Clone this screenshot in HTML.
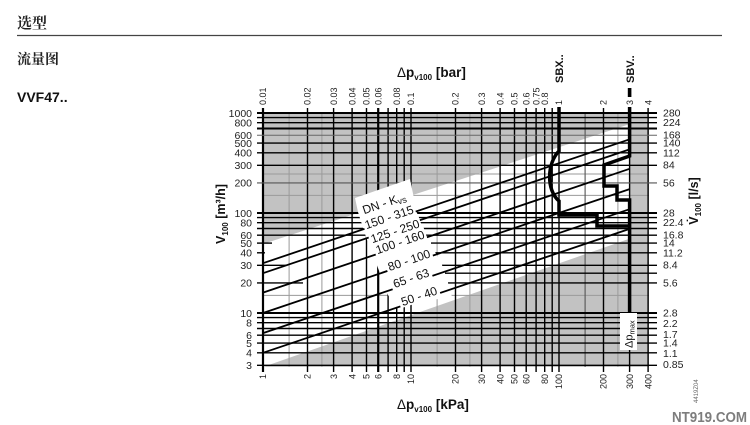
<!DOCTYPE html>
<html><head><meta charset="utf-8">
<style>
html,body{margin:0;padding:0;background:#fff;width:750px;height:425px;overflow:hidden}
svg{display:block}
text{font-family:"Liberation Sans","Noto Sans CJK SC",Arial,sans-serif}
.cjk{font-family:"Noto Serif CJK SC","Noto Sans CJK SC",serif}
</style></head>
<body>
<svg width="750" height="425" viewBox="0 0 750 425" xmlns="http://www.w3.org/2000/svg">
<rect width="750" height="425" fill="#fff"/>

<!-- header -->
<text class="cjk" x="17" y="28" font-size="15" font-weight="bold" fill="#222">选型</text>
<line x1="17" y1="35.5" x2="722" y2="35.5" stroke="#444" stroke-width="1.2"/>
<text class="cjk" x="17" y="64" font-size="14" font-weight="bold" fill="#222">流量图</text>
<text x="17" y="102" font-size="14" font-weight="bold" fill="#111">VVF47..</text>

<!-- plot background -->
<rect x="263" y="113" width="386" height="254" fill="#c2c2c2"/>
<polygon points="263,244 630,124 630,238.5 263,367" fill="#fff"/>

<!-- minor light grid -->
<g stroke="#9a9a9a" stroke-width="1">
<line x1="289.1" y1="113" x2="289.1" y2="367"/>
<line x1="321.9" y1="113" x2="321.9" y2="367"/>
<line x1="437.1" y1="113" x2="437.1" y2="367"/>
<line x1="469.9" y1="113" x2="469.9" y2="367"/>
<line x1="617.9" y1="113" x2="617.9" y2="367"/>
<line x1="263" y1="195.4" x2="649" y2="195.4"/>
<line x1="263" y1="295.4" x2="649" y2="295.4"/>
<line x1="263" y1="174" x2="649" y2="174"/>
</g>
<line x1="585.1" y1="113" x2="585.1" y2="367" stroke="#555" stroke-width="1.1"/>

<!-- major verticals -->
<g stroke="#000" stroke-width="1.4">
<line x1="263" y1="108" x2="263" y2="372" stroke-width="2.2"/>
<line x1="307.5" y1="108" x2="307.5" y2="372"/>
<line x1="333.6" y1="108" x2="333.6" y2="372"/>
<line x1="352.1" y1="108" x2="352.1" y2="372"/>
<line x1="366.5" y1="108" x2="366.5" y2="372"/>
<line x1="378.2" y1="108" x2="378.2" y2="372" stroke-width="2.2"/>
<line x1="388.1" y1="108" x2="388.1" y2="372"/>
<line x1="396.7" y1="108" x2="396.7" y2="372"/>
<line x1="404.2" y1="108" x2="404.2" y2="372"/>
<line x1="411" y1="108" x2="411" y2="372"/>
<line x1="455.5" y1="108" x2="455.5" y2="372"/>
<line x1="481.6" y1="108" x2="481.6" y2="372"/>
<line x1="500.1" y1="108" x2="500.1" y2="372"/>
<line x1="514.5" y1="108" x2="514.5" y2="372"/>
<line x1="526.2" y1="108" x2="526.2" y2="372"/>
<line x1="536.1" y1="108" x2="536.1" y2="372"/>
<line x1="544.7" y1="108" x2="544.7" y2="372"/>
<line x1="552.2" y1="108" x2="552.2" y2="372"/>
<line x1="559" y1="108" x2="559" y2="372"/>
<line x1="603.5" y1="108" x2="603.5" y2="372"/>
<line x1="629.6" y1="108" x2="629.6" y2="372"/>
<line x1="648.1" y1="108" x2="648.1" y2="372"/>
</g>

<!-- major horizontals -->
<g stroke="#000" stroke-width="1.4">
<line x1="257" y1="113" x2="657" y2="113" stroke-width="2"/>
<line x1="257" y1="117.6" x2="657" y2="117.6"/>
<line x1="257" y1="122.7" x2="657" y2="122.7"/>
<line x1="257" y1="128.5" x2="657" y2="128.5" stroke-width="2"/>
<line x1="257" y1="135.2" x2="657" y2="135.2" stroke="#666" stroke-width="1"/>
<line x1="257" y1="143.1" x2="657" y2="143.1"/>
<line x1="257" y1="152.8" x2="657" y2="152.8"/>
<line x1="257" y1="165.3" x2="657" y2="165.3"/>
<line x1="257" y1="182.9" x2="657" y2="182.9" stroke="#555" stroke-width="1.1"/>
<line x1="257" y1="213" x2="657" y2="213" stroke-width="2"/>
<line x1="257" y1="217.6" x2="657" y2="217.6"/>
<line x1="257" y1="222.7" x2="657" y2="222.7"/>
<line x1="257" y1="228.5" x2="657" y2="228.5"/>
<line x1="257" y1="235.2" x2="657" y2="235.2"/>
<line x1="257" y1="243.1" x2="272" y2="243.1"/>
<line x1="431" y1="243.1" x2="657" y2="243.1"/>
<line x1="257" y1="252.8" x2="265" y2="252.8"/>
<line x1="433" y1="252.8" x2="657" y2="252.8"/>
<line x1="257" y1="265.3" x2="287" y2="265.3"/>
<line x1="442" y1="265.3" x2="657" y2="265.3"/>
<line x1="445" y1="273.2" x2="657" y2="273.2"/>
<line x1="257" y1="282.9" x2="303" y2="282.9"/>
<line x1="448" y1="282.9" x2="657" y2="282.9"/>
<line x1="257" y1="313" x2="657" y2="313" stroke-width="2"/>
<line x1="257" y1="317.6" x2="657" y2="317.6"/>
<line x1="257" y1="322.7" x2="657" y2="322.7"/>
<line x1="257" y1="328.5" x2="657" y2="328.5"/>
<line x1="257" y1="335.2" x2="657" y2="335.2"/>
<line x1="257" y1="343.1" x2="657" y2="343.1"/>
<line x1="257" y1="352.8" x2="657" y2="352.8"/>
<line x1="257" y1="365.3" x2="657" y2="365.3"/>
</g>

<!-- label mask -->
<polygon points="355,198 410,179 417,213 425,235 433,248 442,265 448,283 452,297 411,303 404,305 397,308 388,295 378,268 366,237 358,212" fill="#fff"/>

<!-- Kvs lines -->
<g stroke="#000" stroke-width="1.8">
<line x1="263" y1="263.2" x2="629.6" y2="139.3"/>
<line x1="263" y1="273.2" x2="629.6" y2="149.4"/>
<line x1="263" y1="292.6" x2="629.6" y2="168.8"/>
<line x1="263" y1="313" x2="629.6" y2="189.1"/>
<line x1="263" y1="333.1" x2="629.6" y2="209.2"/>
<line x1="263" y1="352.8" x2="629.6" y2="228.9"/>
</g>

<!-- inline labels -->
<g font-size="12" fill="#111">
<g transform="translate(384,203) rotate(-18.67)"><rect x="-26" y="-7" width="52" height="14" fill="#fff"/><text x="0" y="4.3" text-anchor="middle">DN - K<tspan font-size="9" dy="2">vs</tspan></text></g>
<g transform="translate(389,217) rotate(-18.67)"><rect x="-27" y="-7" width="54" height="13" fill="#fff"/><text x="0" y="4.3" text-anchor="middle">150 - 315</text></g>
<g transform="translate(395,231) rotate(-18.67)"><rect x="-27" y="-7" width="54" height="13" fill="#fff"/><text x="0" y="4.3" text-anchor="middle">125 - 250</text></g>
<g transform="translate(400,242) rotate(-18.67)"><rect x="-27" y="-7" width="54" height="13" fill="#fff"/><text x="0" y="4.3" text-anchor="middle">100 - 160</text></g>
<g transform="translate(409,260) rotate(-18.67)"><rect x="-24" y="-7" width="48" height="13" fill="#fff"/><text x="0" y="4.3" text-anchor="middle">80 - 100</text></g>
<g transform="translate(411,278) rotate(-18.67)"><rect x="-21" y="-7" width="42" height="13" fill="#fff"/><text x="0" y="4.3" text-anchor="middle">65 - 63</text></g>
<g transform="translate(419,296) rotate(-18.67)"><rect x="-21" y="-7" width="42" height="13" fill="#fff"/><text x="0" y="4.3" text-anchor="middle">50 - 40</text></g>
</g>

<!-- SBX / SBV -->
<g stroke="#000" stroke-width="3.5" fill="none" stroke-linejoin="miter">
<path d="M559,107 V151 C547,163 546,190 559,201 V215 H597 V226 H629.6"/>
<path d="M629.6,107 V156 L604,165 V186 H617 V200 H629.6 V313"/>
</g>
<rect x="627.8" y="88" width="3.6" height="9" fill="#000"/>

<!-- dp max box -->
<rect x="620" y="313" width="17" height="37" fill="#fff"/>
<text transform="translate(632.5,348) rotate(-90)" font-size="11" fill="#111">Δp<tspan font-size="7.5" dy="2">max</tspan></text>

<!-- left labels -->
<g font-size="10.5" fill="#222" text-anchor="end">
<text x="252" y="116.8">1000</text>
<text x="252" y="126.5">800</text>
<text x="252" y="139">600</text>
<text x="252" y="146.9">500</text>
<text x="252" y="156.6">400</text>
<text x="252" y="169.1">300</text>
<text x="252" y="186.7">200</text>
<text x="252" y="216.8">100</text>
<text x="252" y="226.5">80</text>
<text x="252" y="239">60</text>
<text x="252" y="246.9">50</text>
<text x="252" y="256.6">40</text>
<text x="252" y="269.1">30</text>
<text x="252" y="286.7">20</text>
<text x="252" y="316.8">10</text>
<text x="252" y="326.5">8</text>
<text x="252" y="339">6</text>
<text x="252" y="346.9">5</text>
<text x="252" y="356.6">4</text>
<text x="252" y="369.1">3</text>
</g>

<!-- right labels -->
<g font-size="10.5" fill="#222">
<text x="663" y="116.5">280</text>
<text x="663" y="126.1">224</text>
<text x="663" y="138.6">168</text>
<text x="663" y="146.5">140</text>
<text x="663" y="156.3">112</text>
<text x="663" y="168.7">84</text>
<text x="663" y="186.3">56</text>
<text x="663" y="216.5">28</text>
<text x="663" y="226.1">22.4</text>
<text x="663" y="238.6">16.8</text>
<text x="663" y="246.6">14</text>
<text x="663" y="256.3">11.2</text>
<text x="663" y="268.7">8.4</text>
<text x="663" y="286.3">5.6</text>
<text x="663" y="316.5">2.8</text>
<text x="663" y="326.9">2.2</text>
<text x="663" y="338.1">1.7</text>
<text x="663" y="346.6">1.4</text>
<text x="663" y="357">1.1</text>
<text x="663" y="368.1">0.85</text>
</g>

<!-- top tick labels -->
<g font-size="9" fill="#222">
<text transform="translate(266.2,105) rotate(-90)">0.01</text>
<text transform="translate(310.7,105) rotate(-90)">0.02</text>
<text transform="translate(336.8,105) rotate(-90)">0.03</text>
<text transform="translate(355.3,105) rotate(-90)">0.04</text>
<text transform="translate(369.7,105) rotate(-90)">0.05</text>
<text transform="translate(381.4,105) rotate(-90)">0.06</text>
<text transform="translate(399.9,105) rotate(-90)">0.08</text>
<text transform="translate(414.2,105) rotate(-90)">0.1</text>
<text transform="translate(458.7,105) rotate(-90)">0.2</text>
<text transform="translate(484.8,105) rotate(-90)">0.3</text>
<text transform="translate(503.3,105) rotate(-90)">0.4</text>
<text transform="translate(517.7,105) rotate(-90)">0.5</text>
<text transform="translate(529.4,105) rotate(-90)">0.6</text>
<text transform="translate(539.3,105) rotate(-90)">0.75</text>
<text transform="translate(547.9,105) rotate(-90)">0.8</text>
<text transform="translate(562.2,105) rotate(-90)">1</text>
<text transform="translate(606.7,105) rotate(-90)">2</text>
<text transform="translate(632.8,105) rotate(-90)">3</text>
<text transform="translate(651.3,105) rotate(-90)">4</text>
</g>

<!-- bottom tick labels -->
<g font-size="9" fill="#222" text-anchor="end">
<text transform="translate(266.2,374) rotate(-90)">1</text>
<text transform="translate(310.7,374) rotate(-90)">2</text>
<text transform="translate(336.8,374) rotate(-90)">3</text>
<text transform="translate(355.3,374) rotate(-90)">4</text>
<text transform="translate(369.7,374) rotate(-90)">5</text>
<text transform="translate(381.4,374) rotate(-90)">6</text>
<text transform="translate(399.9,374) rotate(-90)">8</text>
<text transform="translate(414.2,374) rotate(-90)">10</text>
<text transform="translate(458.7,374) rotate(-90)">20</text>
<text transform="translate(484.8,374) rotate(-90)">30</text>
<text transform="translate(503.3,374) rotate(-90)">40</text>
<text transform="translate(517.7,374) rotate(-90)">50</text>
<text transform="translate(529.4,374) rotate(-90)">60</text>
<text transform="translate(547.9,374) rotate(-90)">80</text>
<text transform="translate(562.2,374) rotate(-90)">100</text>
<text transform="translate(606.7,374) rotate(-90)">200</text>
<text transform="translate(632.8,374) rotate(-90)">300</text>
<text transform="translate(651.3,374) rotate(-90)">400</text>
</g>

<!-- SBX / SBV labels -->
<g font-size="11" font-weight="bold" fill="#111">
<text transform="translate(563,83) rotate(-90)">SBX..</text>
<text transform="translate(634,83) rotate(-90)">SBV..</text>
</g>

<!-- axis titles -->
<text x="397" y="77" font-size="13.5" font-weight="bold" fill="#111"><tspan font-weight="normal">Δ</tspan>p<tspan font-size="8" dy="3">v100</tspan><tspan dy="-3"> [bar]</tspan></text>
<text x="397" y="409" font-size="13.5" font-weight="bold" fill="#111"><tspan font-weight="normal">Δ</tspan>p<tspan font-size="8" dy="3">v100</tspan><tspan dy="-3"> [kPa]</tspan></text>
<text transform="translate(225,214) rotate(-90)" text-anchor="middle" font-size="12.5" font-weight="bold" fill="#111">V<tspan font-size="8" dy="3">100</tspan><tspan dy="-3"> [m³/h]</tspan></text>
<text transform="translate(698,201) rotate(-90)" text-anchor="middle" font-size="12.5" font-weight="bold" fill="#111">V̇<tspan font-size="8" dy="3">100</tspan><tspan dy="-3"> [l/s]</tspan></text>

<!-- misc -->
<text transform="translate(698,403) rotate(-90)" font-size="6" fill="#666">4419Z04</text>
<text x="672" y="422" font-size="14.5" font-weight="bold" fill="#7d7d7d" textLength="75" lengthAdjust="spacingAndGlyphs">NT919.COM</text>
</svg>
</body></html>
